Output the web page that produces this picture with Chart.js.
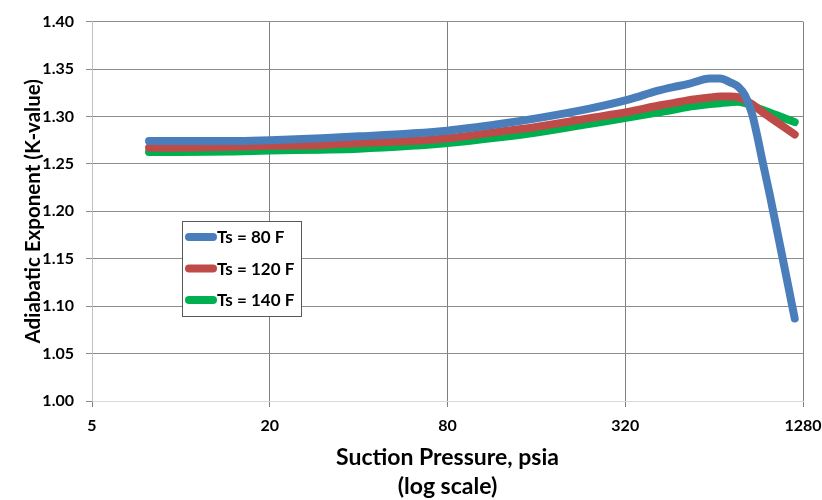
<!DOCTYPE html>
<html>
<head>
<meta charset="utf-8">
<script src="https://cdn.jsdelivr.net/npm/chart.js@4.4.1/dist/chart.umd.min.js"></script>
<style>
  body { margin: 0; background: #fff; }
  canvas { display: block; }
</style>
</head>
<body>
<canvas id="kChart" width="822" height="500"></canvas>
<script>
// suction pressure, psia (log axis)
const pressure = [7.8, 10, 15, 20, 30, 40, 60, 80, 120, 160, 240, 330, 410, 465, 520, 620, 670, 725, 775, 815, 860, 895, 930, 990, 1200];

// K-value per suction temperature
const k80 = [1.274, 1.274, 1.274, 1.275, 1.277, 1.279, 1.282, 1.285, 1.292, 1.298, 1.308, 1.318, 1.327, 1.331, 1.334, 1.340, 1.340, 1.336, 1.331, 1.322, 1.303, 1.280, 1.255, 1.216, 1.087];
const k120 = [1.267, 1.267, 1.268, 1.269, 1.270, 1.272, 1.274, 1.277, 1.284, 1.289, 1.298, 1.305, 1.311, 1.314, 1.317, 1.320, 1.321, 1.321, 1.320, 1.317, 1.313, 1.309, 1.305, 1.299, 1.281];
const k140 = [1.2625, 1.2625, 1.263, 1.264, 1.265, 1.266, 1.269, 1.272, 1.278, 1.283, 1.292, 1.299, 1.304, 1.307, 1.310, 1.313, 1.314, 1.315, 1.3155, 1.314, 1.312, 1.309, 1.307, 1.304, 1.294];

const seriesLabels = ["Ts = 80 F", "Ts = 120 F", "Ts = 140 F"];
const seriesColors = ["#4a7ebb", "#be4b48", "#00b050"];

const xTicks = [5, 20, 80, 320, 1280];
const yMin = 1.0, yMax = 1.4, yStep = 0.05;

const FONT = "Lato, 'Open Sans', sans-serif";

function toPoints(ys) {
  return pressure.map((p, i) => ({ x: p, y: ys[i] }));
}

// legend drawn inside the plot, like the original
const boxLegend = {
  id: "boxLegend",
  afterDatasetsDraw(chart) {
    const ctx = chart.ctx;
    const x0 = 182, y0 = 221, w = 119, h = 95;
    ctx.save();
    ctx.fillStyle = "#fff";
    ctx.fillRect(x0, y0, w, h);
    ctx.strokeStyle = "#595959";
    ctx.lineWidth = 1;
    ctx.strokeRect(x0 + 0.5, y0 + 0.5, w, h);
    chart.data.datasets.forEach((ds, i) => {
      const y = y0 + 16 + i * 31.5;
      ctx.strokeStyle = ds.borderColor;
      ctx.lineWidth = 8;
      ctx.lineCap = "round";
      ctx.beginPath();
      ctx.moveTo(189, y);
      ctx.lineTo(213, y);
      ctx.stroke();
      ctx.fillStyle = "#000";
      ctx.font = "bold 17px " + FONT;
      ctx.textBaseline = "middle";
      ctx.fillText(ds.label, 217, y + 1);
    });
    ctx.restore();
  }
};

const ctx = document.getElementById("kChart").getContext("2d");
new Chart(ctx, {
  type: "line",
  data: {
    datasets: [k80, k120, k140].map((ys, i) => ({
      label: seriesLabels[i],
      data: toPoints(ys),
      borderColor: seriesColors[i],
      backgroundColor: seriesColors[i],
      borderWidth: 8,
      borderCapStyle: "round",
      borderJoinStyle: "round",
      pointRadius: 0,
      cubicInterpolationMode: "monotone",
      fill: false
    }))
  },
  options: {
    responsive: false,
    animation: false,
    layout: { padding: { top: 17, right: 19, left: 17, bottom: 0 } },
    plugins: {
      legend: { display: false },
      tooltip: { enabled: false }
    },
    scales: {
      x: {
        type: "logarithmic",
        min: 5,
        max: 1280,
        afterBuildTicks: (axis) => { axis.ticks = xTicks.map(v => ({ value: v })); },
        afterFit: (axis) => {
          axis.height = 99;
          axis.paddingLeft = 0;
          axis.paddingRight = 0;
        },
        ticks: {
          color: "#000",
          font: { family: FONT, size: 16, weight: "bold" },
          callback: (v) => String(v),
          maxRotation: 0,
          autoSkip: false,
          padding: 9
        },
        grid: { color: "#7f7f7f", lineWidth: 1, tickLength: 6 },
        border: { color: "#d9d9d9" },
        title: {
          display: true,
          text: ["Suction Pressure, psia", "(log scale)"],
          color: "#000",
          font: { family: FONT, size: 23, weight: "bold", lineHeight: 1.25 },
          padding: { top: 0, bottom: -1 }
        }
      },
      y: {
        min: yMin,
        max: yMax,
        afterFit: (axis) => { axis.width = 75; },
        ticks: {
          stepSize: yStep,
          color: "#000",
          font: { family: FONT, size: 16, weight: "bold" },
          callback: (v) => Number(v).toFixed(2),
          padding: 12
        },
        grid: { color: "#8c8c8c", lineWidth: 1, tickLength: 6 },
        border: { color: "#bfbfbf" },
        title: {
          display: true,
          text: "Adiabatic Exponent (K-value)",
          color: "#000",
          font: { family: FONT, size: 20.5, weight: "bold" },
          padding: { top: 4, bottom: 0 }
        }
      }
    }
  },
  plugins: [boxLegend]
});
</script>
</body>
</html>
